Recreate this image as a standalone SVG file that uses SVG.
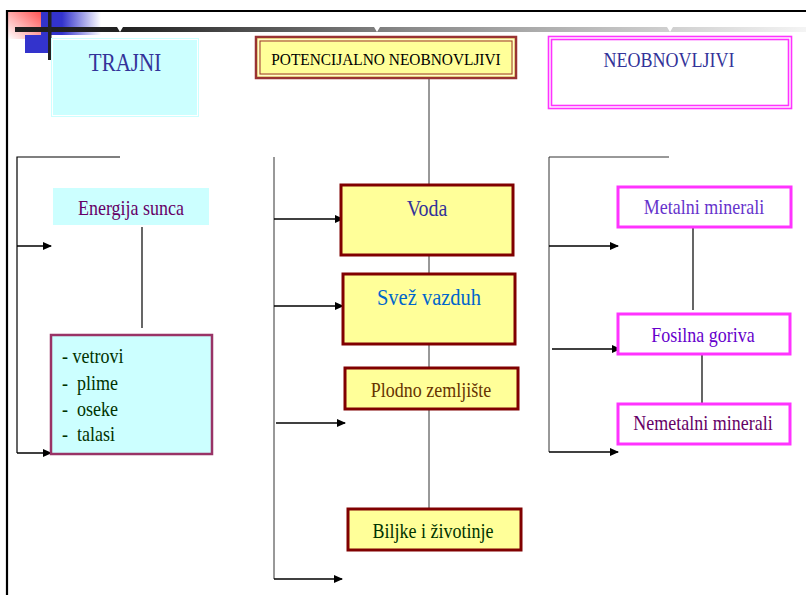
<svg xmlns="http://www.w3.org/2000/svg" width="806" height="595" viewBox="0 0 806 595" font-family="Liberation Serif, Times New Roman, DejaVu Serif, serif">
<defs>
<linearGradient id="pink" x1="1" y1="0" x2="0" y2="1"><stop offset="0" stop-color="#ff5555"/><stop offset="1" stop-color="#ffffff"/></linearGradient>
<linearGradient id="blue" x1="0" y1="0" x2="1" y2="0"><stop offset="0" stop-color="#3333cc"/><stop offset="0.35" stop-color="#3333cc"/><stop offset="1" stop-color="#3333cc" stop-opacity="0"/></linearGradient>
<linearGradient id="bar" x1="15" y1="0" x2="806" y2="0" gradientUnits="userSpaceOnUse"><stop offset="0" stop-color="#1e1e1e"/><stop offset="0.14" stop-color="#222222"/><stop offset="0.5" stop-color="#8a8a8a"/><stop offset="1" stop-color="#f4f4f4"/></linearGradient>
<marker id="arr" markerWidth="9" markerHeight="8" refX="8" refY="4" orient="auto" markerUnits="userSpaceOnUse"><path d="M0,0 L9,4 L0,8 z" fill="#000"/></marker>
</defs>
<style>
.c{text-anchor:middle;}
.ln{stroke:#000;stroke-width:1.2;fill:none;}
.ar{stroke:#000;stroke-width:1.5;fill:none;marker-end:url(#arr);}
.gr{stroke:#333;stroke-width:1;fill:none;}
.yb{fill:#ffff99;stroke:#800000;stroke-width:3;}
.mb{fill:#ffffff;stroke:#ff33ff;stroke-width:3;}
</style>
<rect width="806" height="595" fill="#fff"/>
<g id="decoration">
<rect x="8" y="12" width="33" height="27" fill="url(#pink)"/>
<rect x="41" y="12" width="60" height="23" fill="url(#blue)"/>
<rect x="25" y="35" width="23" height="18" fill="#3333cc"/>
<rect x="15" y="27" width="791" height="5" fill="url(#bar)"/>
<path d="M117,27 L123,27 L120,32 z M374,27 L380,27 L377,32 z M667,27 L673,27 L670,32 z" fill="#fff"/>
<rect x="48" y="12" width="3.5" height="48" fill="#222"/>
<path d="M7,595 L7,11 L806,11" stroke="#000" stroke-width="2.2" fill="none"/>
</g>
<g id="connectors">
<path class="ln" d="M120,157 L17,157 L17,453"/>
<path class="ar" d="M17,246 L51,246"/>
<path class="ar" d="M17,453 L51,453"/>
<path class="ln" d="M142,227 L142,328"/>
<path class="gr" d="M274,157 L274,579"/>
<path class="ar" d="M274,219 L343,219"/>
<path class="ar" d="M274,306 L343,306"/>
<path class="ar" d="M276,423 L345,423"/>
<path class="ar" d="M274,579 L342,579"/>
<path class="gr" d="M429,79 L429,184 M429,255 L429,273 M429,344 L429,368 M429,409 L429,512"/>
<path class="gr" d="M669,157 L549,157 L549,452"/>
<path class="ar" d="M549,246 L618,246"/>
<path class="ar" d="M552,349 L620,349"/>
<path class="ar" d="M549,452 L618,452"/>
<path class="ln" d="M693,228 L693,310 M702,354 L702,403"/>
</g>
<g id="trajni">
<rect x="51" y="38" width="148" height="79" fill="#ccffff"/>
<rect x="52.5" y="39.5" width="145" height="76" fill="none" stroke="#ffffff" stroke-width="1"/>
<text class="c" transform="translate(125,71) scale(1,1.15)" font-size="21" fill="#333399">TRAJNI</text>
</g>
<g id="potencijalno">
<rect x="256" y="37" width="260" height="41" fill="#ffff99" stroke="#993333" stroke-width="2.5"/>
<rect x="258.5" y="39.5" width="255" height="36" fill="none" stroke="#ffffcc" stroke-width="1"/>
<rect x="260" y="41" width="252" height="33" fill="none" stroke="#993333" stroke-width="1"/>
<text class="c" transform="translate(386,65) scale(1,1.15)" font-size="15.4" fill="#000">POTENCIJALNO NEOBNOVLJIVI</text>
</g>
<g id="neobnovljivi">
<rect x="548.5" y="36.5" width="243" height="72" fill="#fff" stroke="#ff33ff" stroke-width="1.6"/>
<rect x="551.5" y="39.5" width="237" height="66" fill="none" stroke="#ff33ff" stroke-width="1.6"/>
<text class="c" transform="translate(669,67) scale(1,1.15)" font-size="18" fill="#333399">NEOBNOVLJIVI</text>
</g>
<g id="energija">
<rect x="53" y="188" width="156" height="37" fill="#ccffff"/>
<text class="c" transform="translate(131,215) scale(1,1.15)" font-size="18" fill="#660066">Energija sunca</text>
</g>
<g id="lista">
<rect x="51" y="335" width="161" height="119" fill="#ccffff" stroke="#993366" stroke-width="2.5"/>
<text transform="translate(62,363) scale(1,1.15)" font-size="18" fill="#003300" xml:space="preserve">- vetrovi</text>
<text transform="translate(62,390) scale(1,1.15)" font-size="18" fill="#003300" xml:space="preserve">-  plime</text>
<text transform="translate(62,416) scale(1,1.15)" font-size="18" fill="#003300" xml:space="preserve">-  oseke</text>
<text transform="translate(62,441) scale(1,1.15)" font-size="18" fill="#003300" xml:space="preserve">-  talasi</text>
</g>
<g id="voda">
<rect class="yb" x="341" y="185" width="172" height="70"/>
<text class="c" transform="translate(427,216) scale(1,1.15)" font-size="20" fill="#333399">Voda</text>
</g>
<g id="svez">
<rect class="yb" x="343" y="274" width="172" height="70"/>
<text class="c" transform="translate(429,305) scale(1,1.15)" font-size="20.5" fill="#0066cc">Svež vazduh</text>
</g>
<g id="plodno">
<rect class="yb" x="345" y="368" width="173" height="41"/>
<text class="c" transform="translate(431,397) scale(1,1.15)" font-size="18" fill="#663300">Plodno zemljište</text>
</g>
<g id="biljke">
<rect class="yb" x="348" y="509" width="173" height="41"/>
<text class="c" transform="translate(433,538) scale(1,1.15)" font-size="18" fill="#003300">Biljke i životinje</text>
</g>
<g id="metalni">
<rect class="mb" x="618" y="187" width="173" height="40"/>
<text class="c" transform="translate(704,214) scale(1,1.15)" font-size="18" fill="#6633cc">Metalni minerali</text>
</g>
<g id="fosilna">
<rect class="mb" x="618" y="314" width="172" height="40"/>
<text class="c" transform="translate(703,342) scale(1,1.15)" font-size="18" fill="#6600cc">Fosilna goriva</text>
</g>
<g id="nemetalni">
<rect class="mb" x="618" y="404" width="172" height="40"/>
<text class="c" transform="translate(703,430) scale(1,1.15)" font-size="18" fill="#660066">Nemetalni minerali</text>
</g>
</svg>
